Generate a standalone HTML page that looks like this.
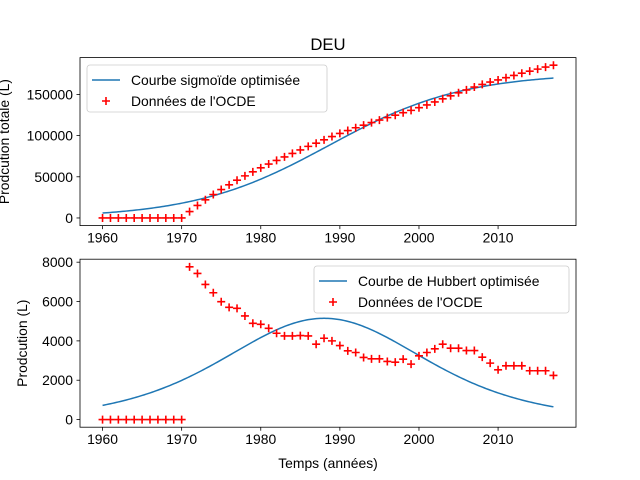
<!DOCTYPE html>
<html><head><meta charset="utf-8"><style>
body{margin:0;background:#fff}
svg{display:block;font-family:"Liberation Sans","DejaVu Sans",sans-serif}
</style></head><body>
<svg id="c" width="640" height="480" xmlns="http://www.w3.org/2000/svg"></svg>
<script>
const years = [];
for (let y = 1960; y <= 2017; y++) years.push(y);
const annual = [0,0,0,0,0,0,0,0,0,0,0,
 7764,7426,6869,6447,5991,5704,5653,5266,4894,4843,4640,4388,4253,4253,4270,4253,3831,4134,4000,3764,3494,3409,3156,3088,3088,2953,2919,3071,2818,3240,3409,3595,3831,3628,3628,3510,3510,3173,2869,2531,2734,2734,2734,2481,2481,2481,2244];
const xTicks = [1960,1970,1980,1990,2000,2010];
const yTicksTop = [0,50000,100000,150000];
const yTicksBot = [0,2000,4000,6000,8000];
const sigK = 176000, sigR = 0.117, sigT0 = 1988.6;
const hubK = 176000, hubR = 0.117, hubT0 = 1988;

const NS="http://www.w3.org/2000/svg", svg=document.getElementById('c');
function mk(tag,attrs,parent){const e=document.createElementNS(NS,tag);for(const k in attrs)e.setAttribute(k,attrs[k]);(parent||svg).appendChild(e);return e;}
function txt(s,attrs){const e=mk('text',attrs);e.textContent=s;return e;}

const L=80,R=576;
const xs=y=>L+(y-1957.15)/(2019.85-1957.15)*(R-L);
const cum=[];let acc=0;annual.forEach(v=>{acc+=v;cum.push(acc);});
const maxCum=Math.max(...cum), maxAnn=Math.max(...annual);

function panel(top,bot,ymin,ymax,ticks,vals,curve,ylabel,legendLine,legendBox,name){
  const ys=v=>bot-(v-ymin)/(ymax-ymin)*(bot-top);
  const g=mk('g',{});
  
  
  // curve
  let d='';
  for(let t=1960;t<=2017.001;t+=0.25){d+=(d?'L':'M')+xs(t).toFixed(2)+','+ys(curve(t)).toFixed(2);}
  const p=mk('path',{d:d,fill:'none',stroke:'#1f77b4','stroke-width':1.5},g);
  
  
  vals.forEach((v,i)=>{
    const x=xs(years[i]),y=ys(v);
    const m=mk('path',{d:`M${x-4},${y}H${x+4}M${x},${y-4}V${y+4}`,stroke:'#ff0000','stroke-width':1.6},g);
    
    
  });
  const f=mk('rect',{x:L,y:top,width:R-L,height:bot-top,fill:'none',stroke:'#000','stroke-width':0.8},g);
  
  
  xTicks.forEach(t=>{
    const x=xs(t);
    mk('line',{x1:x,x2:x,y1:bot,y2:bot+3.5,stroke:'#000','stroke-width':0.8},g);
    const e=txt(String(t),{x:x,y:bot+17,'font-size':13.9,'text-anchor':'middle'});
    
    
  });
  ticks.forEach(t=>{
    const y=ys(t);
    mk('line',{x1:L-3.5,x2:L,y1:y,y2:y,stroke:'#000','stroke-width':0.8},g);
    const e=txt(String(t),{x:L-7,y:y+5,'font-size':13.9,'text-anchor':'end'});
    
    
  });
  const yl=txt(ylabel.t,{x:ylabel.x,y:(top+bot)/2,'font-size':13.9,'text-anchor':'middle',transform:`rotate(-90 ${ylabel.x} ${(top+bot)/2})`});
  
  
  // legend
  const b=legendBox;
  const lg=mk('g',{});
  
  
  mk('rect',{x:b.x,y:b.y,width:b.w,height:47,rx:3,fill:'#fff','fill-opacity':0.8,stroke:'#ccc','stroke-width':0.8},lg);
  mk('line',{x1:b.x+5,x2:b.x+33,y1:b.y+15,y2:b.y+15,stroke:'#1f77b4','stroke-width':1.5},lg);
  const t1=txt(legendLine,{x:b.x+44,y:b.y+20,'font-size':13.9});lg.appendChild(t1);
  
  
  const cx=b.x+19,cy=b.y+36;
  mk('path',{d:`M${cx-4},${cy}H${cx+4}M${cx},${cy-4}V${cy+4}`,stroke:'#ff0000','stroke-width':1.6},lg);
  const t2=txt("Données de l'OCDE",{x:b.x+44,y:b.y+41,'font-size':13.9});lg.appendChild(t2);
  
  
}

panel(57.6,225.6,-0.05*maxCum,1.05*maxCum,yTicksTop,cum,
  t=>sigK/(1+Math.exp(-sigR*(t-sigT0))),
  {t:'Prodcution totale (L)',x:9},'Courbe sigmoïde optimisée',{x:87,y:65,w:240},'top-panel');
panel(259.2,427.2,-0.05*maxAnn,1.05*maxAnn,yTicksBot,annual,
  t=>{const e=Math.exp(-hubR*(t-hubT0));return hubK*hubR*e/((1+e)*(1+e));},
  {t:'Prodcution (L)',x:27},'Courbe de Hubbert optimisée',{x:314,y:266,w:255},'bottom-panel');

const ti=txt('DEU',{x:328,y:50,'font-size':16.7,'text-anchor':'middle'});


const xl=txt('Temps (années)',{x:328,y:468,'font-size':13.9,'text-anchor':'middle'});


</script>
</body></html>
